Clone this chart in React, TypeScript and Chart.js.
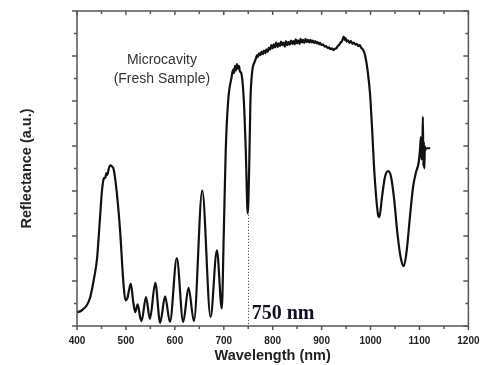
import React, { useEffect, useRef } from "react";
import { Chart, registerables } from "chart.js";

Chart.register(...registerables);

const wavelengths = [
  400, 410, 420, 427, 434, 441, 447, 451, 455, 458, 460, 462, 465, 468, 471, 475, 481, 488, 495, 499,
  503, 510, 515, 519, 524, 529, 532, 541, 549, 560, 570, 580, 590, 604, 617, 628, 639, 656, 673, 686,
  696, 700, 704, 709, 716, 719, 721, 723, 725, 727, 729, 731, 733, 736, 741, 745, 749, 752, 754.5, 758,
  763, 766, 768, 770, 772, 775, 777, 780, 782, 785, 787, 790, 792, 795, 797, 800, 802, 805, 807, 810,
  812, 815, 817, 820, 822, 825, 827, 830, 832, 835, 837, 840, 842, 845, 847, 850, 852, 855, 857, 860,
  862, 865, 867, 870, 872, 875, 877, 880, 882, 885, 887, 890, 892, 895, 897, 900, 903, 906, 909, 912,
  915, 918, 921, 924, 927, 930, 933, 936, 939, 942, 945, 947, 949, 951, 954, 957, 960, 963, 966, 969,
  972, 975, 978, 981, 984, 987, 989, 994, 999, 1003, 1008, 1015, 1018, 1023.5, 1029.5, 1036, 1042, 1048.5, 1055, 1062,
  1068, 1074, 1080.5, 1087, 1093, 1098, 1101, 1103, 1104, 1106, 1107, 1108, 1109, 1110, 1111, 1112, 1113, 1122,
];

const reflectance = [
  0.30, 0.35, 0.46, 0.64, 1.01, 1.50, 2.40, 3.00, 3.28, 3.30, 3.40, 3.36, 3.50, 3.57, 3.55, 3.48, 3.00, 2.13, 0.94, 0.57,
  0.62, 0.94, 0.53, 0.31, 0.48, 0.20, 0.11, 0.64, 0.16, 0.96, 0.07, 0.66, 0.09, 1.51, 0.09, 0.85, 0.11, 3.01, 0.20, 1.68,
  0.39, 2.05, 3.90, 5.01, 5.53, 5.70, 5.62, 5.78, 5.68, 5.82, 5.72, 5.78, 5.66, 5.61, 5.01, 3.90, 2.50, 3.53, 5.01, 5.64,
  5.87, 5.95, 6.02, 5.98, 6.06, 6.02, 6.10, 6.04, 6.12, 6.06, 6.15, 6.09, 6.18, 6.14, 6.24, 6.17, 6.26, 6.19, 6.30, 6.20,
  6.28, 6.22, 6.32, 6.24, 6.30, 6.21, 6.33, 6.24, 6.31, 6.25, 6.34, 6.27, 6.33, 6.26, 6.37, 6.28, 6.35, 6.27, 6.38, 6.30,
  6.36, 6.29, 6.38, 6.31, 6.36, 6.30, 6.36, 6.30, 6.34, 6.29, 6.33, 6.28, 6.31, 6.26, 6.29, 6.24, 6.26, 6.21, 6.22, 6.18,
  6.19, 6.15, 6.17, 6.13, 6.16, 6.17, 6.22, 6.25, 6.30, 6.34, 6.43, 6.36, 6.40, 6.32, 6.35, 6.29, 6.33, 6.27, 6.30, 6.25,
  6.27, 6.22, 6.24, 6.18, 6.15, 6.08, 6.01, 5.68, 5.16, 4.42, 3.39, 2.50, 2.42, 2.87, 3.31, 3.44, 3.31, 2.79, 2.05, 1.50,
  1.33, 1.68, 2.42, 3.09, 3.42, 3.61, 3.90, 4.20, 3.70, 4.00, 4.65, 3.55, 4.10, 3.50, 4.00, 3.90, 3.95, 3.95,
];

const xMajorTicks = [400, 500, 600, 700, 800, 900, 1000, 1100, 1200];
const xMinorTicks = [450, 550, 650, 750, 850, 950, 1050, 1150];
const yMajorTicks = [0, 1, 2, 3, 4, 5, 6, 7];
const yMinorTicks = [0.5, 1.5, 2.5, 3.5, 4.5, 5.5, 6.5];

const annotationLines = ["Microcavity", "(Fresh Sample)"];
const annotationAt = { x: 573.5, y: 5.7 };
const markerWavelength = 750;
const markerTop = 2.47;
const markerLabel = "750 nm";
const markerLabelAt = { x: 757, y: 0.145 };

const framePlugin = {
  id: "frameAndNotes",
  afterDatasetsDraw(chart: any) {
    const { ctx, scales } = chart;
    const x = scales.x;
    const y = scales.y;
    ctx.save();
    ctx.strokeStyle = "#333";
    ctx.lineWidth = 1;
    ctx.setLineDash([1, 2]);
    const mx = Math.round(x.getPixelForValue(markerWavelength)) + 0.5;
    ctx.beginPath();
    ctx.moveTo(mx, y.getPixelForValue(markerTop));
    ctx.lineTo(mx, y.getPixelForValue(0));
    ctx.stroke();
    ctx.setLineDash([]);
    ctx.fillStyle = "#333";
    ctx.font = "14px 'Liberation Sans', Arial, sans-serif";
    ctx.textAlign = "center";
    ctx.textBaseline = "middle";
    const ax = x.getPixelForValue(annotationAt.x);
    const ay = y.getPixelForValue(annotationAt.y);
    ctx.fillText(annotationLines[0], ax, ay - 9.5);
    ctx.fillText(annotationLines[1], ax, ay + 9.5);
    ctx.fillStyle = "#10102a";
    ctx.font = "bold 20px 'Liberation Serif', 'Times New Roman', serif";
    ctx.textAlign = "left";
    ctx.textBaseline = "alphabetic";
    ctx.fillText(markerLabel, x.getPixelForValue(markerLabelAt.x), y.getPixelForValue(markerLabelAt.y));
    ctx.restore();
  },
  afterDraw(chart: any) {
    const { ctx, chartArea, scales } = chart;
    const { left, right, top, bottom } = chartArea;
    const x = scales.x;
    const y = scales.y;
    ctx.save();
    ctx.strokeStyle = "#555";
    ctx.lineWidth = 1.5;
    ctx.strokeRect(left, top, right - left, bottom - top);
    const seg = (x1: number, y1: number, x2: number, y2: number) => {
      ctx.beginPath();
      ctx.moveTo(x1, y1);
      ctx.lineTo(x2, y2);
      ctx.stroke();
    };
    xMajorTicks.forEach((v) => {
      const px = x.getPixelForValue(v);
      seg(px, bottom, px, bottom + 4);
      seg(px, top, px, top + 4);
    });
    xMinorTicks.forEach((v) => {
      const px = x.getPixelForValue(v);
      seg(px, bottom, px, bottom + 3);
      seg(px, top, px, top + 3);
    });
    yMajorTicks.forEach((v) => {
      const py = y.getPixelForValue(v);
      seg(left - 5, py, left, py);
      seg(right - 5, py, right, py);
    });
    yMinorTicks.forEach((v) => {
      const py = y.getPixelForValue(v);
      seg(left - 3, py, left, py);
      seg(right - 3, py, right, py);
    });
    ctx.restore();
  },
};

export default function App() {
  const canvasRef = useRef<HTMLCanvasElement>(null);

  useEffect(() => {
    document.body.style.margin = "0";
    const canvas = canvasRef.current;
    if (!canvas) return;
    const chart = new Chart(canvas, {
      type: "line",
      data: {
        datasets: [
          {
            data: wavelengths.map((w, i) => ({ x: w, y: reflectance[i] })),
            borderColor: "#111",
            borderWidth: 2.2,
            pointRadius: 0,
            cubicInterpolationMode: "monotone",
            fill: false,
          },
        ],
      },
      options: {
        responsive: false,
        animation: false,
        devicePixelRatio: 1,
        layout: { padding: { top: 11, right: 20, left: 0, bottom: 0 } },
        plugins: { legend: { display: false }, tooltip: { enabled: false } },
        scales: {
          x: {
            type: "linear",
            min: 400,
            max: 1200,
            grid: { display: false, drawTicks: false },
            border: { display: false },
            ticks: {
              stepSize: 100,
              padding: 9.5,
              color: "#222",
              callback: (v: any) => String(v),
              font: { family: "'Liberation Sans', Arial, sans-serif", size: 10, weight: "bold" },
            },
            title: {
              display: true,
              text: "Wavelength (nm)",
              color: "#222",
              padding: { top: 0, bottom: 0 },
              font: { family: "'Liberation Sans', Arial, sans-serif", size: 14.5, weight: "bold" },
            },
            afterFit: (scale: any) => {
              scale.height = 39;
            },
          },
          y: {
            type: "linear",
            min: 0,
            max: 7,
            grid: { display: false, drawTicks: false },
            border: { display: false },
            ticks: { display: false },
            title: {
              display: true,
              text: "Reflectance (a.u.)",
              color: "#222",
              padding: { top: 18, bottom: 0 },
              font: { family: "'Liberation Sans', Arial, sans-serif", size: 14.5, weight: "bold" },
            },
            afterFit: (scale: any) => {
              scale.width = 77;
            },
          },
        },
      },
      plugins: [framePlugin],
    });
    return () => chart.destroy();
  }, []);

  return (
    <div style={{ width: 489, height: 365 }}>
      <canvas ref={canvasRef} width={489} height={365} />
    </div>
  );
}
